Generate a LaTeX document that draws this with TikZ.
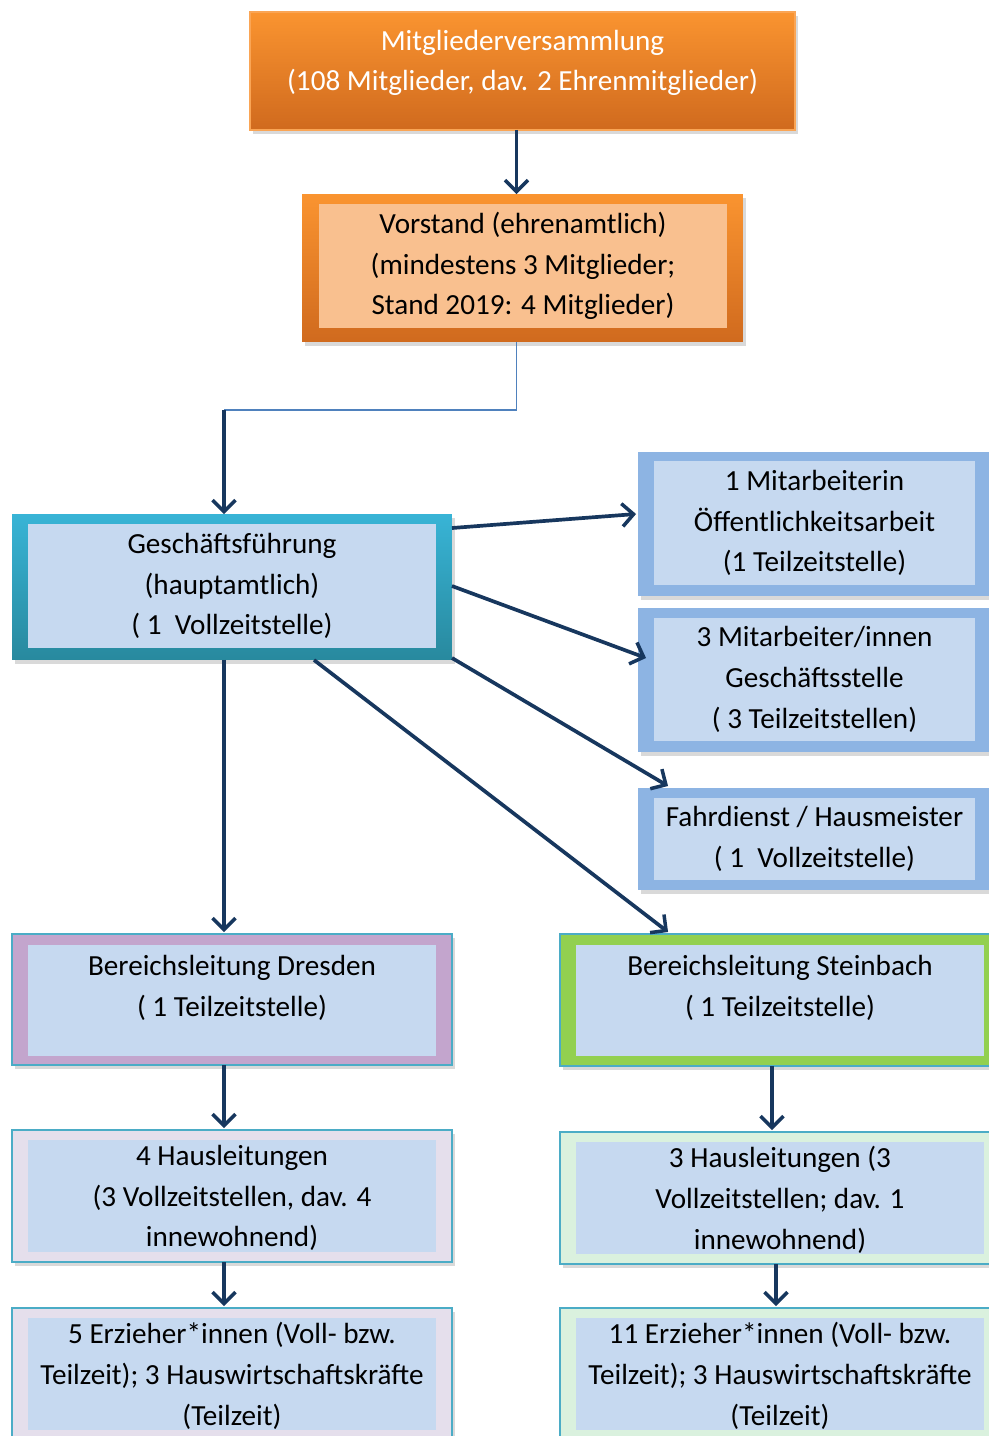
\documentclass[tikz,border=0pt]{standalone}
\usepackage{fontspec}
\setmainfont{Carlito}
\usepackage{xcolor}
\usepackage{tikz}
\usetikzlibrary{arrows.meta, positioning, calc, shadows}
\definecolor{orangetop}{RGB}{250, 148, 48}
\definecolor{orangebot}{RGB}{208, 106, 30}
\definecolor{orangeline}{RGB}{250, 165, 85}
\definecolor{peach}{RGB}{249, 192, 143}
\definecolor{tealtop}{RGB}{56, 180, 214}
\definecolor{tealbot}{RGB}{40, 137, 158}
\definecolor{tealline}{RGB}{75, 172, 198}
\definecolor{paleblue}{RGB}{198, 217, 240}
\definecolor{midblue}{RGB}{141, 180, 227}
\definecolor{lilac}{RGB}{195, 165, 205}
\definecolor{palelilac}{RGB}{229, 223, 236}
\definecolor{leafgreen}{RGB}{146, 208, 80}
\definecolor{mint}{RGB}{218, 241, 222}
\definecolor{arrownavy}{RGB}{23, 55, 94}
\definecolor{thinblue}{RGB}{79, 129, 189}

\begin{document}
\begin{tikzpicture}[x=0.02cm, y=-0.02cm,
    outerbox/.style={rectangle, inner sep=0pt, outer sep=0pt,
        drop shadow={shadow xshift=1.5pt, shadow yshift=-2.5pt, opacity=0.3}},
    innerbox/.style={rectangle, inner sep=0pt, outer sep=0pt, fill=paleblue,
        align=center, font=\fontsize{16.6}{23.2}\selectfont},
    flowarrow/.style={draw=arrownavy, line width=2.1pt,
        -{Straight Barb[length=6.5pt, width=13pt, line width=2pt]}}]
    \useasboundingbox (0,0) rectangle (988,1436);

    % Draw top of the hierarchy
    \node[outerbox, top color=orangetop, bottom color=orangebot, draw=orangeline, line width=1pt,
        minimum width=10.9cm, minimum height=2.36cm] (mv) at (522.5,71) {};
    \node[align=center, text=white, font=\fontsize{16.6}{23.2}\selectfont] (mvtext) at (522.5,63)
        {Mitgliederversammlung\\(108 Mitglieder, dav. 2 Ehrenmitglieder)};

    \node[outerbox, top color=orangetop, bottom color=orangebot,
        minimum width=8.82cm, minimum height=2.96cm] (vs) at (522.5,268) {};
    \node[innerbox, fill=peach, minimum width=8.16cm, minimum height=2.48cm] (vsin) at (523,266)
        {Vorstand (ehrenamtlich)\\(mindestens 3 Mitglieder;\\Stand 2019: 4 Mitglieder)};

    \node[outerbox, top color=tealtop, bottom color=tealbot,
        minimum width=8.8cm, minimum height=2.92cm] (gf) at (232,587) {};
    \node[innerbox, minimum width=8.16cm, minimum height=2.48cm] (gfin) at (232,586)
        {Geschäftsführung\\(hauptamtlich)\\( 1\ \ Vollzeitstelle)};

    % Draw staff boxes on the right
    \node[outerbox, fill=midblue, minimum width=7.04cm, minimum height=2.88cm] (oa) at (814,524) {};
    \node[innerbox, minimum width=6.42cm, minimum height=2.48cm] (oain) at (814.5,523)
        {1 Mitarbeiterin\\Öffentlichkeitsarbeit\\(1 Teilzeitstelle)};

    \node[outerbox, fill=midblue, minimum width=7.04cm, minimum height=2.88cm] (gs) at (814,680) {};
    \node[innerbox, minimum width=6.42cm, minimum height=2.46cm] (gsin) at (814.5,679.5)
        {3 Mitarbeiter/innen\\Geschäftsstelle\\( 3 Teilzeitstellen)};

    \node[outerbox, fill=midblue, minimum width=7.04cm, minimum height=2.04cm] (fd) at (814,839) {};
    \node[innerbox, minimum width=6.42cm, minimum height=1.64cm] (fdin) at (814.5,839)
        {Fahrdienst / Hausmeister\\( 1\ \ Vollzeitstelle)};

    % Draw the two branches
    \node[outerbox, fill=lilac, draw=tealline, line width=1pt,
        minimum width=8.8cm, minimum height=2.62cm] (bd) at (232,999.5) {};
    \node[innerbox, text depth=17pt, minimum width=8.16cm, minimum height=2.22cm] (bdin) at (232,1000.5)
        {Bereichsleitung Dresden\\( 1 Teilzeitstelle)};

    \node[outerbox, fill=leafgreen, draw=tealline, line width=1pt,
        minimum width=8.8cm, minimum height=2.64cm] (bs) at (780,1000) {};
    \node[innerbox, text depth=17pt, minimum width=8.16cm, minimum height=2.22cm] (bsin) at (780,1000.5)
        {Bereichsleitung Steinbach\\( 1 Teilzeitstelle)};

    \node[outerbox, fill=palelilac, draw=tealline, line width=1pt,
        minimum width=8.8cm, minimum height=2.64cm] (hd) at (232,1196) {};
    \node[innerbox, text depth=-8pt, minimum width=8.16cm, minimum height=2.24cm] (hdin) at (232,1196)
        {4 Hausleitungen\\(3 Vollzeitstellen, dav. 4\\innewohnend)};

    \node[outerbox, fill=mint, draw=tealline, line width=1pt,
        minimum width=8.8cm, minimum height=2.64cm] (hs) at (780,1198) {};
    \node[innerbox, text depth=-8pt, minimum width=8.16cm, minimum height=2.24cm] (hsin) at (780,1198)
        {3 Hausleitungen (3\\Vollzeitstellen; dav. 1\\innewohnend)};

    \node[outerbox, fill=palelilac, draw=tealline, line width=1pt,
        minimum width=8.8cm, minimum height=2.64cm] (ed) at (232,1374) {};
    \node[innerbox, text depth=-8pt, minimum width=8.16cm, minimum height=2.24cm] (edin) at (232,1374)
        {5 Erzieher*innen (Voll- bzw.\\Teilzeit); 3 Hauswirtschaftskräfte\\(Teilzeit)};

    \node[outerbox, fill=mint, draw=tealline, line width=1pt,
        minimum width=8.8cm, minimum height=2.64cm] (es) at (780,1374) {};
    \node[innerbox, text depth=-8pt, minimum width=8.16cm, minimum height=2.24cm] (esin) at (780,1374)
        {11 Erzieher*innen (Voll- bzw.\\Teilzeit); 3 Hauswirtschaftskräfte\\(Teilzeit)};

    % Draw connectors
    \coordinate (Bend) at (224,410);
    \draw[flowarrow] ($(mv.south)+(-6,0)$) -- ($(vs.north)+(-6,0)$);
    \draw[thinblue, line width=0.9pt] ($(vs.south)+(-6,0)$) |- (Bend);
    \draw[flowarrow] (Bend) -- ($(gf.north)+(-8,0)$);

    \draw[flowarrow] ($(gf.north east)+(0,14)$) -- ($(oa.west)+(-2,-10)$);
    \draw[flowarrow] ($(gf.east)+(0,-1)$) -- ($(gs.west)+(8,-22)$);
    \draw[flowarrow] ($(gf.south east)+(0,-2)$) -- ($(fd.north west)+(30,-2)$);
    \draw[flowarrow] ($(gf.south)+(82,0)$) -- ($(bs.north west)+(108,-2)$);
    \draw[flowarrow] ($(gf.south)+(-8,0)$) -- ($(bd.north)+(-8,-2)$);

    \draw[flowarrow] ($(bd.south)+(-8,0)$) -- ($(hd.north)+(-8,-2)$);
    \draw[flowarrow] ($(bs.south)+(-8,0)$) -- ($(hs.north)+(-8,-2)$);
    \draw[flowarrow] ($(hd.south)+(-8,0)$) -- ($(ed.north)+(-8,-2)$);
    \draw[flowarrow] ($(hs.south)+(-4,0)$) -- ($(es.north)+(-4,-2)$);
\end{tikzpicture}
\end{document}
